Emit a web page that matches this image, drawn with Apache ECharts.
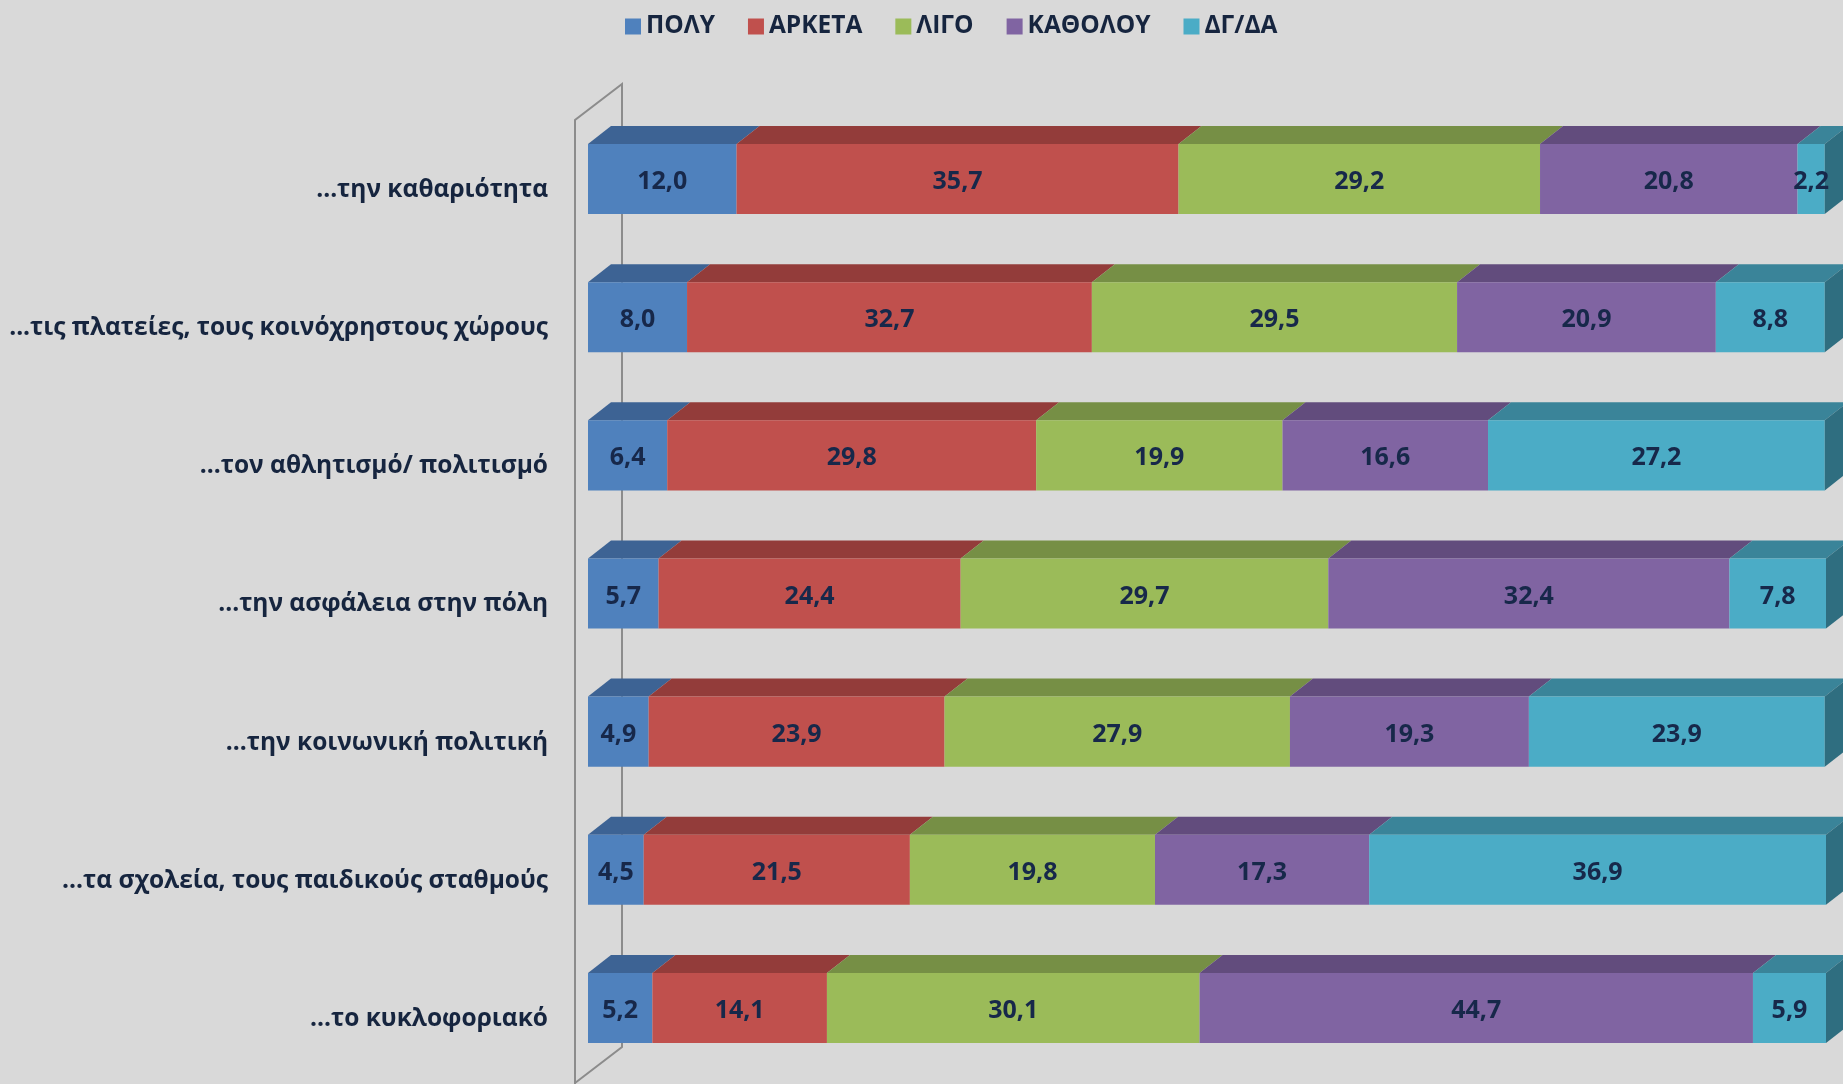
<!DOCTYPE html>
<html>
<head>
<meta charset="utf-8">
<script src="https://cdn.jsdelivr.net/npm/echarts@6/dist/echarts.min.js"></script>
<style>
html,body{margin:0;padding:0;background:#d9d9d9;}
#chart{width:1843px;height:1084px;}
</style>
</head>
<body>
<div id="chart"></div>
<script>
var categories = [
  "...την καθαριότητα",
  "...τις πλατείες, τους κοινόχρηστους χώρους",
  "...τον αθλητισμό/ πολιτισμό",
  "...την ασφάλεια στην πόλη",
  "...την κοινωνική πολιτική",
  "...τα σχολεία, τους παιδικούς σταθμούς",
  "...το κυκλοφοριακό"
];
var seriesNames = ["ΠΟΛΥ", "ΑΡΚΕΤΑ", "ΛΙΓΟ", "ΚΑΘΟΛΟΥ", "ΔΓ/ΔΑ"];
var poly    = [12.0, 8.0, 6.4, 5.7, 4.9, 4.5, 5.2];
var arketa  = [35.7, 32.7, 29.8, 24.4, 23.9, 21.5, 14.1];
var ligo    = [29.2, 29.5, 19.9, 29.7, 27.9, 19.8, 30.1];
var katholou= [20.8, 20.9, 16.6, 32.4, 19.3, 17.3, 44.7];
var dgda    = [2.2, 8.8, 27.2, 7.8, 23.9, 36.9, 5.9];

var frontColors = ["#4f81bd", "#c0504d", "#9bbb59", "#8064a2", "#4bacc6"];
var topColors   = ["#3d6394", "#933c3a", "#768f45", "#624c7d", "#3a8499"];
var sideColor   = "#2f6e80";

var values = [poly, arketa, ligo, katholou, dgda];
var gridLeft = 588, gridRight = 17, gridTop = 110, gridBottom = 7;
var dx = 23, dy = 18;

// build stacked segments [cat, start, end, value]
var cum = categories.map(function(){ return 0; });
var segData = values.map(function(arr){
  return arr.map(function(v, i){
    var s = cum[i];
    cum[i] = s + v;
    return [i, s, s + v, v];
  });
});

function makeRender(si) {
  var last = si === values.length - 1;
  return function(params, api) {
    var cat = api.value(0);
    var p0 = api.coord([api.value(1), cat]);
    var p1 = api.coord([api.value(2), cat]);
    var h = api.size([0, 1])[1] * 0.507;
    var x0 = p0[0], x1 = p1[0];
    var top = p0[1] - h / 2, bot = p0[1] + h / 2;
    var children = [
      {type: 'polygon', shape: {points: [[x0, top], [x1, top], [x1 + dx, top - dy], [x0 + dx, top - dy]]},
       style: {fill: topColors[si]}},
      {type: 'rect', shape: {x: x0, y: top, width: x1 - x0, height: h},
       style: {fill: frontColors[si]}}
    ];
    if (last) {
      children.push({type: 'polygon', shape: {points: [[x1, top], [x1 + dx, top - dy], [x1 + dx, bot - dy], [x1, bot]]},
        style: {fill: sideColor}});
    }
    children.push({type: 'text', x: (x0 + x1) / 2, y: p0[1] + 3,
      style: {text: api.value(3).toFixed(1).replace('.', ','), fill: '#17284a',
        font: 'bold 25px "Open Sans"', align: 'center', verticalAlign: 'middle'}});
    return {type: 'group', children: children};
  };
}

var chart = echarts.init(document.getElementById('chart'));
var wallStroke = '#8c8c8c';
var option = {
  backgroundColor: '#d9d9d9',
  animation: false,
  legend: {
    top: 9,
    left: 620,
    itemWidth: 16,
    itemHeight: 16,
    itemGap: 33,
    icon: 'rect',
    textStyle: {fontFamily: 'Open Sans', fontWeight: 'bold', fontSize: 24.5, color: '#16253f'},
    data: seriesNames
  },
  grid: {left: gridLeft, right: gridRight, top: gridTop, bottom: gridBottom},
  xAxis: {type: 'value', min: 0, max: 100, show: false},
  yAxis: {
    type: 'category',
    data: categories,
    inverse: true,
    axisLine: {show: false},
    axisTick: {show: false},
    axisLabel: {margin: 40, verticalAlign: 'top', lineHeight: 22, fontFamily: 'Open Sans', fontWeight: 'bold', fontSize: 24.5, color: '#16253f'}
  },
  graphic: [{
    type: 'polyline', z: 0,
    shape: {points: [[575, 1084], [575, 120], [622, 84], [622, 1047], [575, 1083]]},
    style: {stroke: wallStroke, lineWidth: 2, fill: null}
  }],
  series: seriesNames.map(function(name, si){
    return {
      type: 'custom',
      name: name,
      z: 3,
      itemStyle: {color: frontColors[si]},
      encode: {x: [1, 2], y: 0},
      renderItem: makeRender(si),
      data: segData[si]
    };
  })
};
chart.setOption(option);
</script>
</body>
</html>
